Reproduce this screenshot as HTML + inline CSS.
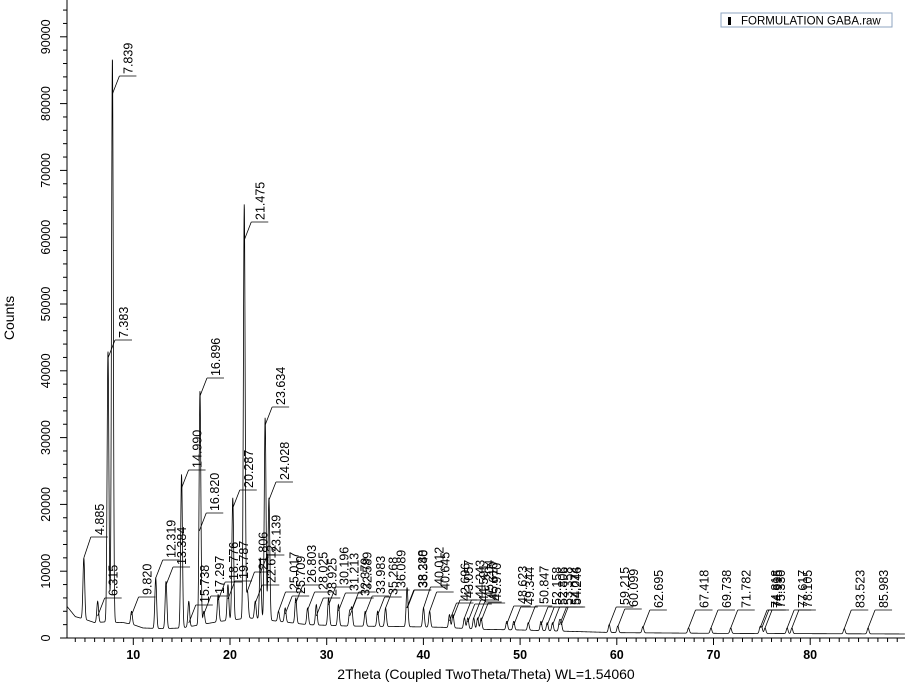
<!DOCTYPE html>
<html><head><meta charset="utf-8"><style>
body{margin:0;background:#fff;}
svg{display:block;font-family:"Liberation Sans",Arial,sans-serif;}
</style></head><body>
<svg id="chart" width="905" height="684" viewBox="0 0 905 684">
<g id="axes"></g>
<g id="series"></g>
<g id="labels"></g>
<text x="14" y="318" font-size="14" text-anchor="middle" transform="rotate(-90 14 318)">Counts</text>
<text x="486" y="679" font-size="14" text-anchor="middle">2Theta (Coupled TwoTheta/Theta) WL=1.54060</text>
<g>
<rect x="721" y="13" width="171" height="14" fill="#fff" stroke="#8fa6c0" stroke-width="1"/>
<rect x="728" y="17" width="3" height="8" fill="#000"/>
<text x="741" y="24.5" font-size="11.5" fill="#000">FORMULATION GABA.raw</text>
</g>
</svg>
<script>
const peakPos = [4.885,6.315,7.383,7.839,9.820,12.319,13.384,14.990,15.738,16.820,16.896,17.297,18.776,19.787,20.287,21.475,21.806,22.612,23.139,23.634,24.028,25.017,25.709,26.803,28.025,28.925,30.196,31.213,32.379,32.589,33.983,35.268,36.089,38.288,38.340,40.012,40.645,42.696,43.057,44.243,44.591,45.204,45.610,45.970,48.623,49.344,50.847,52.158,52.806,53.358,54.074,54.246,59.215,60.099,62.695,67.418,69.738,71.782,74.818,74.995,75.330,77.617,78.105,83.523,85.983];
const peakCounts = [12000,5500,43000,87000,4000,9000,8500,24500,5500,2000,37000,4000,6500,8000,21000,65000,7000,5500,12000,33000,21000,4000,4500,6000,4500,5000,6000,5000,4000,4500,4000,4000,4500,5000,4500,4500,4000,3500,3500,3000,3000,3000,3000,3000,2500,2500,2300,2500,2300,2300,2500,2300,2000,1800,1700,1500,1500,1500,1600,1500,1500,1500,1500,1400,1500];
const labelLevel = [537,598,340,76,597,560,567,470,605,513,378,596,582,581,490,222,572,585,555,407,482,592,596,585,592,598,587,593,598,592,596,597,590,590,590,587,592,603,600,600,604,600,602,603,606,607,606,607,607,607,607,607,607,609,610,610,610,610,610,610,610,610,610,610,610];
const baseTheta = [3,4,5,6,7,9,10,11,13,15,17,19,22,25,28,32,38,42,46,50,55,60,70,90];
const baseCounts = [5000,3200,2800,2300,2400,2300,2000,1500,1400,1500,2000,2500,3000,2500,2000,1800,1700,1600,1300,1200,1000,800,700,600];
const xTicks = [10,20,30,40,50,60,70,80];
const yTicks = [0,10000,20000,30000,40000,50000,60000,70000,80000,90000];

const NS="http://www.w3.org/2000/svg";
const X0=67, Y0=638;
function sx(t){return 36.6+9.67*t;}
function sy(c){return 638-c*66.8/10000;}
function mk(tag,attrs,parent){const e=document.createElementNS(NS,tag);for(const k in attrs)e.setAttribute(k,attrs[k]);parent.appendChild(e);return e;}
function baseAt(t){for(let i=0;i<baseTheta.length-1;i++){if(t<=baseTheta[i+1]){const f=(t-baseTheta[i])/(baseTheta[i+1]-baseTheta[i]);return baseCounts[i]+f*(baseCounts[i+1]-baseCounts[i]);}}return baseCounts[baseCounts.length-1];}
function curveAt(t){let v=baseAt(t);for(let i=0;i<peakPos.length;i++){const a=Math.max(0,peakCounts[i]-baseAt(peakPos[i]));const d=(t-peakPos[i])/0.09;v+=a*Math.exp(-0.5*d*d);}return v;}

const axes=document.getElementById('axes');
const xl=mk('line',{x1:X0,y1:Y0,x2:905,y2:Y0,stroke:'#000','stroke-width':1},axes);


const yl=mk('line',{x1:X0,y1:0,x2:X0,y2:Y0,stroke:'#000','stroke-width':1},axes);


for(let t=4;t<=89;t++){const major=t%10===0;mk('line',{x1:sx(t),y1:Y0,x2:sx(t),y2:Y0+(major?7:4),stroke:'#000'},axes);}
for(let c=0;c<=94000;c+=2000){const major=c%10000===0;mk('line',{x1:X0,y1:sy(c),x2:X0-(major?7:4),y2:sy(c),stroke:'#000'},axes);}
xTicks.forEach(t=>{const e=mk('text',{x:sx(t),y:659,'font-size':12.5,'text-anchor':'middle','font-weight':'bold'},axes);e.textContent=t;

});
yTicks.forEach(c=>{const y=sy(c);const e=mk('text',{x:50,y:y,'font-size':12.5,'text-anchor':'middle',transform:`rotate(-90 50 ${y})`},axes);e.textContent=c;

});

const series=document.getElementById('series');
let d='';for(let t=3.15;t<=89.8;t+=0.02){d+=(d?'L':'M')+sx(t).toFixed(2)+','+sy(curveAt(t)).toFixed(2);}
const p=mk('path',{d:d,fill:'none',stroke:'#000','stroke-width':0.8},series);



const labels=document.getElementById('labels');
peakPos.forEach((t,i)=>{const px=sx(t);const py=sy(curveAt(t));const ly=labelLevel[i];
const sy0=Math.max(py,ly+18);const lx=px+7;
const g=mk('g',{},labels);


mk('line',{x1:px,y1:sy0,x2:lx,y2:ly,stroke:'#000','stroke-width':0.8},g);
mk('line',{x1:lx,y1:ly,x2:lx+17,y2:ly,stroke:'#000','stroke-width':0.8},g);
const tx=lx+13;const e=mk('text',{x:tx,y:ly-2,'font-size':12.5,transform:`rotate(-90 ${tx} ${ly-2})`},g);e.textContent=t.toFixed(3);});
</script>
</body></html>
